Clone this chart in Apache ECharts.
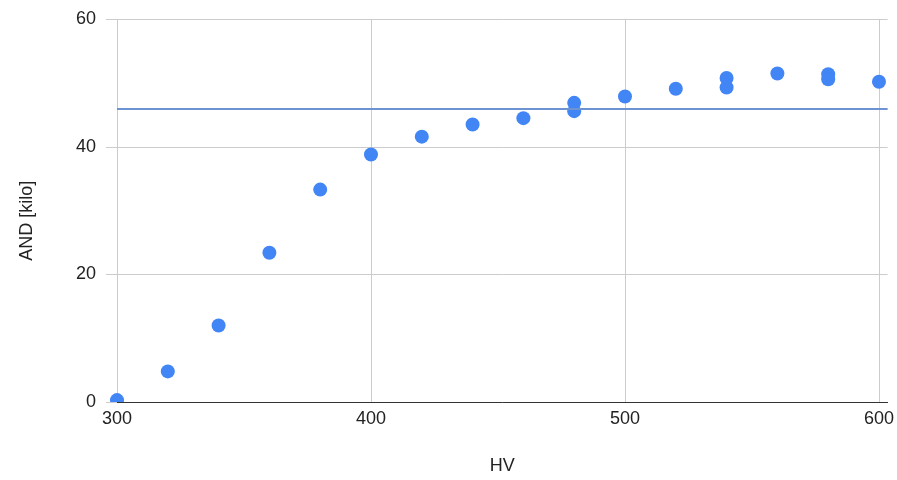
<!DOCTYPE html>
<html>
<head>
<meta charset="utf-8">
<script src="https://cdn.jsdelivr.net/npm/echarts@6/dist/echarts.min.js"></script>
<style>
html,body{margin:0;padding:0;background:#fff;}
#chart{width:897px;height:480px;}
</style>
</head>
<body>
<div id="chart"></div>
<script>
const hv = [300, 320, 340, 360, 380, 400, 420, 440, 460, 480, 480, 500, 520, 540, 540, 560, 580, 580, 600];
const andKilo = [0.3, 4.8, 12.0, 23.4, 33.3, 38.8, 41.6, 43.5, 44.5, 46.9, 45.6, 47.9, 49.1, 50.8, 49.3, 51.5, 51.4, 50.6, 50.2];
const refLine = 45.9;
const xTicks = [300, 400, 500, 600];
const yTicks = [0, 20, 40, 60];

const points = hv.map((x, i) => [x, andKilo[i]]);
const font = 'Liberation Sans, Arial, sans-serif';
const R = 7;

const chart = echarts.init(document.getElementById('chart'), null, {renderer: 'canvas'});
chart.setOption({
  animation: false,
  backgroundColor: '#fff',
  grid: {left: 117, right: 9, top: 19.3, bottom: 76.7, containLabel: false},
  xAxis: {
    type: 'value',
    min: xTicks[0],
    max: 603.4,
    interval: 100,
    name: 'HV',
    nameLocation: 'middle',
    nameGap: 55,
    nameTextStyle: {fontFamily: font, fontSize: 18, color: '#222'},
    axisLine: {show: true, onZero: false, lineStyle: {color: '#333', width: 1}},
    axisTick: {show: false},
    axisLabel: {
      showMaxLabel: false,
      margin: 8,
      fontFamily: font, fontSize: 18, color: '#222',
      formatter: v => (xTicks.indexOf(v) >= 0 ? String(v) : '')
    },
    splitLine: {show: true, showMinLine: true, showMaxLine: false, lineStyle: {color: '#cccccc', width: 1}}
  },
  yAxis: {
    type: 'value',
    min: yTicks[0],
    max: yTicks[yTicks.length - 1],
    interval: 20,
    name: 'AND [kilo]',
    nameLocation: 'middle',
    nameGap: 81,
    nameRotate: 90,
    nameTextStyle: {fontFamily: font, fontSize: 18, color: '#222', padding: [0, 20, 0, 0]},
    axisLine: {show: false},
    axisTick: {show: true, length: 11, lineStyle: {color: '#cccccc', width: 1}},
    axisLabel: {margin: 21, fontFamily: font, fontSize: 18, color: '#222'},
    splitLine: {show: true, lineStyle: {color: '#cccccc', width: 1}}
  },
  series: [{
    type: 'custom',
    data: points,
    clip: false,
    renderItem: function (params, api) {
      const p = api.coord([api.value(0), api.value(1)]);
      const base = api.coord([api.value(0), yTicks[0]])[1];
      return {
        type: 'circle',
        shape: {cx: p[0], cy: p[1], r: R},
        style: {fill: '#4285F4'},
        clipPath: {
          type: 'rect',
          shape: {x: p[0] - R - 2, y: p[1] - R - 2, width: 2 * R + 4, height: base - (p[1] - R - 2)}
        }
      };
    },
    markLine: {
      silent: true,
      symbol: ['none', 'none'],
      label: {show: false},
      lineStyle: {color: '#6d93d3', width: 2, type: 'solid'},
      data: [{yAxis: refLine}]
    },
    z: 3
  }]
});
</script>
</body>
</html>
